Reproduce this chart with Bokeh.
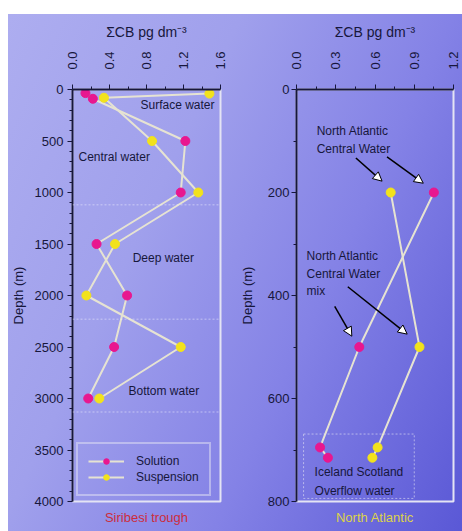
import math
from bokeh.plotting import figure
from bokeh.models import (Range1d, FixedTicker, Label, Arrow, NormalHead,
                          BoxAnnotation, Span, Title, PrintfTickFormatter)
from bokeh.layouts import row
from bokeh.embed import file_html
from bokeh.resources import INLINE

# ---------------- data ----------------
# Siribesi trough
sir_depth_solution = [35, 90, 500, 1000, 1500, 2000, 2500, 3000]
sir_solution = [0.14, 0.22, 1.22, 1.17, 0.26, 0.59, 0.45, 0.17]
sir_depth_suspension = [40, 80, 500, 1000, 1500, 2000, 2500, 3000]
sir_suspension = [1.48, 0.34, 0.86, 1.36, 0.46, 0.15, 1.17, 0.29]
sir_boundaries = [1120, 2230, 3130]
sir_x_ticks = [0.0, 0.4, 0.8, 1.2, 1.6]
sir_x_minor = [0.2, 0.6, 1.0, 1.4]
sir_y_ticks = [0, 500, 1000, 1500, 2000, 2500, 3000, 3500, 4000]
sir_y_minor = [d for d in range(0, 4001, 100) if d % 500]

# North Atlantic
na_depth = [200, 500, 695, 715]
na_solution = [1.05, 0.48, 0.18, 0.24]
na_suspension = [0.72, 0.94, 0.62, 0.58]
na_x_ticks = [0.0, 0.3, 0.6, 0.9, 1.2]
na_x_minor = [0.15, 0.45, 0.75, 1.05]
na_y_ticks = [0, 200, 400, 600, 800]
na_y_minor = [100, 300, 500, 700]

FONT = "Liberation Sans"
DARK = "#17173c"
LIGHT = "#e6e3d2"
FRAME = "#e4e4f4"
MAGENTA = "#e8178f"
YELLOW = "#f2e21c"
XLABEL = "\u03a3CB pg dm\u207b\u00b3"
H = 531


def base_fig(width, xr, yr, bl, br, bt, bb, xt, xm, yt, ym):
    p = figure(width=width, height=H, x_range=Range1d(*xr), y_range=Range1d(*yr),
               x_axis_location="above", output_backend="svg", toolbar_location=None,
               min_border_left=bl, min_border_right=br, min_border_top=bt,
               min_border_bottom=bb)
    p.background_fill_alpha = 0
    p.border_fill_alpha = 0
    p.grid.visible = False
    p.outline_line_color = FRAME
    p.outline_line_width = 2
    p.xaxis.ticker = FixedTicker(ticks=xt, minor_ticks=xm)
    p.xaxis.formatter = PrintfTickFormatter(format="%.1f")
    p.yaxis.ticker = FixedTicker(ticks=yt, minor_ticks=ym)
    for ax in (p.xaxis[0], p.yaxis[0]):
        ax.axis_line_color = DARK
        ax.axis_line_width = 2
        ax.major_tick_line_color = DARK
        ax.minor_tick_line_color = DARK
        ax.major_tick_out = 5
        ax.major_tick_in = 0
        ax.minor_tick_out = 3
        ax.minor_tick_in = 0
        ax.major_label_text_font = FONT
        ax.major_label_text_font_size = "13px"
        ax.major_label_text_color = DARK
        ax.axis_label_text_font = FONT
        ax.axis_label_text_font_style = "normal"
        ax.axis_label_text_color = DARK
    p.xaxis.axis_label = XLABEL
    p.xaxis.axis_label_text_font_size = "14px"
    p.xaxis.major_label_orientation = math.pi / 2
    p.xaxis.major_label_standoff = 15
    p.xaxis.axis_label_standoff = 8
    p.yaxis.axis_label = "Depth (m)"
    p.yaxis.axis_label_text_font_size = "13px"
    return p


def label(p, x, y, text, size="12px", color=DARK):
    p.add_layout(Label(x=x, y=y, text=text, text_font=FONT, text_font_size=size,
                       text_color=color, text_baseline="middle", text_align="left"))


def bottom_title(p, text, color):
    p.add_layout(Title(text=text, align="center", text_font=FONT,
                       text_font_size="13px", text_font_style="normal",
                       text_color=color, standoff=13), "below")


# ---------------- Siribesi trough ----------------
p1 = base_fig(230, (0, 1.6), (4000, 0), 72, 10, 87, 29,
              sir_x_ticks, sir_x_minor, sir_y_ticks, sir_y_minor)
p1.yaxis.major_label_standoff = 4
p1.yaxis.axis_label_standoff = 6

for b in sir_boundaries:
    p1.add_layout(Span(location=b, dimension="width", line_color="#f0f0ff",
                       line_alpha=0.35, line_dash="2 2", line_width=1.5))

p1.line(sir_solution, sir_depth_solution, line_color=LIGHT, line_width=2,
        legend_label="Solution")
p1.line(sir_suspension, sir_depth_suspension, line_color=LIGHT, line_width=2,
        legend_label="Suspension")
p1.scatter(sir_solution, sir_depth_solution, size=9, fill_color=MAGENTA,
           line_color=MAGENTA, legend_label="Solution")
p1.scatter(sir_suspension, sir_depth_suspension, size=9, fill_color=YELLOW,
           line_color=YELLOW, legend_label="Suspension")

label(p1, 0.735, 150, "Surface water")
label(p1, 0.065, 655, "Central water")
label(p1, 0.65, 1640, "Deep water")
label(p1, 0.605, 2930, "Bottom water")

lg = p1.legend[0]
lg.location = (4, 5)
lg.margin = 0
lg.padding = 10
lg.spacing = 2
lg.glyph_width = 36
lg.glyph_height = 14
lg.label_standoff = 12
lg.label_text_font = FONT
lg.label_text_font_size = "12px"
lg.label_text_color = DARK
lg.background_fill_alpha = 0
lg.border_line_color = FRAME
lg.border_line_width = 2

bottom_title(p1, "Siribesi trough", "#cc2d3c")

# ---------------- North Atlantic ----------------
p2 = base_fig(232, (0, 1.2), (800, 0), 66, 9, 89, 28,
              na_x_ticks, na_x_minor, na_y_ticks, na_y_minor)
p2.yaxis.major_label_standoff = 2
p2.yaxis.axis_label_standoff = 10

p2.add_layout(BoxAnnotation(left=0.054, right=0.9, top=669, bottom=794,
                            fill_alpha=0, line_color=FRAME, line_alpha=0.6,
                            line_dash="2 2", line_width=1))

p2.line(na_solution, na_depth, line_color=LIGHT, line_width=2)
p2.line(na_suspension, na_depth, line_color=LIGHT, line_width=2)
p2.scatter(na_solution, na_depth, size=9, fill_color=MAGENTA, line_color=MAGENTA)
p2.scatter(na_suspension, na_depth, size=9, fill_color=YELLOW, line_color=YELLOW)

label(p2, 0.154, 81, "North Atlantic")
label(p2, 0.154, 116, "Central Water")
label(p2, 0.077, 323, "North Atlantic")
label(p2, 0.077, 358, "Central Water")
label(p2, 0.077, 392, "mix")
label(p2, 0.138, 742, "Iceland Scotland")
label(p2, 0.138, 779, "Overflow water")

for xs, ys, xe, ye in [(0.454, 133, 0.654, 178), (0.692, 131, 0.969, 182),
                       (0.292, 421, 0.423, 479), (0.392, 383, 0.846, 475)]:
    p2.add_layout(Arrow(end=NormalHead(size=9, fill_color="white", line_color="black",
                                       line_width=1),
                        x_start=xs, y_start=ys, x_end=xe, y_end=ye,
                        line_color="black", line_width=1.5))

bottom_title(p2, "North Atlantic", "#dcd24a")

layout = row(p1, p2, spacing=0, styles={
    "background": "linear-gradient(to bottom, #ffffff 14px, rgba(255,255,255,0) 14px), "
                  "linear-gradient(to right, #ffffff 8px, rgba(255,255,255,0) 8px), "
                  "linear-gradient(115deg, #aeaef0 0%, #a0a0ec 35%, #8482e6 65%, #5a58d6 100%)"
})

open("out.html", "w").write(file_html(layout, INLINE))
